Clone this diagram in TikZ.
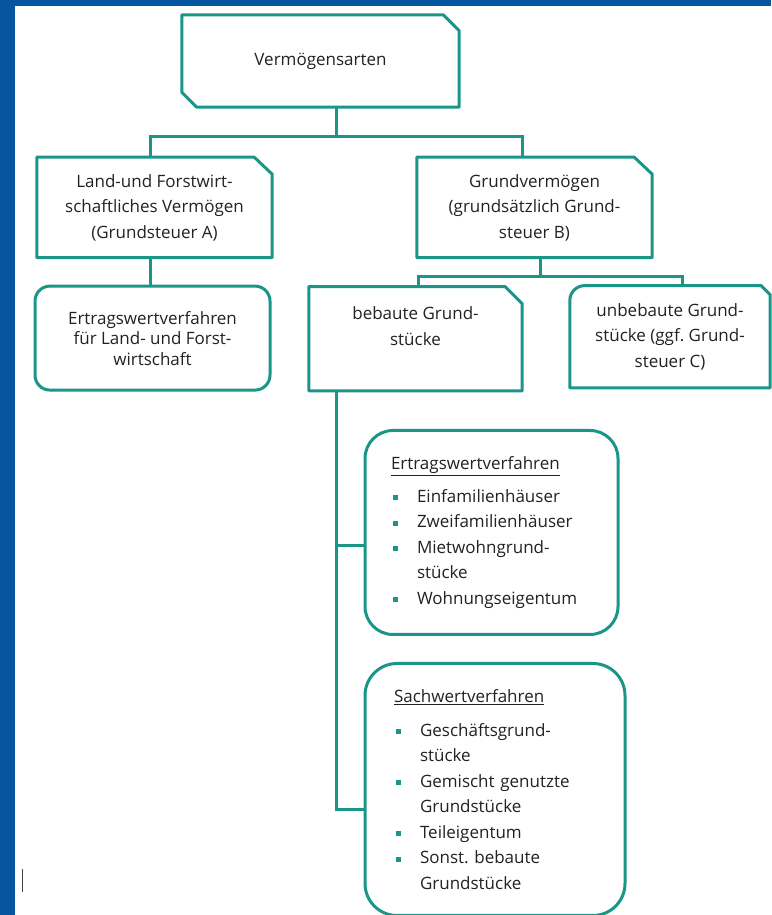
\documentclass[tikz,border=0pt]{standalone}
\usepackage{fontspec}
\setmainfont{Open Sans}
\usetikzlibrary{positioning}

\definecolor{tealline}{RGB}{26,150,136}
\definecolor{frameblue}{RGB}{5,85,160}
\definecolor{textgray}{RGB}{34,34,34}

% bullet of the lists
\newcommand{\bul}{\makebox[26pt][l]{\hspace*{2pt}\textcolor{tealline}{\rule[2pt]{5pt}{5pt}}}}
\newcommand{\cont}{\hspace*{26pt}}

\begin{document}
\begin{tikzpicture}[x=1pt, y=1pt]
    \tikzset{
        box/.style = {draw=none, inner sep=0pt, align=center, text=textgray,
                      font=\fontsize{17}{25.5}\selectfont},
        roundbox/.style = {box, draw=tealline, line width=3pt, rounded corners=#1},
        listbox/.style = {roundbox=#1, align=left},
        line/.style = {draw=tealline, line width=3pt},
        outline/.style = {draw=tealline, line width=3pt, line join=round}
    }

    % frame
    \useasboundingbox (0,0) rectangle (771,915);
    \fill[white] (0,0) rectangle (771,915);
    \fill[frameblue] (0,0) rectangle (15,915);
    \fill[frameblue] (0,909) rectangle (771,915);
    \draw[black!75, line width=1.5pt] (22.5,46) -- (22.5,23);

    % oberste Ebene
    \node [box, minimum width=277pt, minimum height=92pt] (top) at (320.5,854) {Vermögensarten};

    % zweite Ebene
    \node [box, minimum width=235pt, minimum height=100pt, below=50pt of top, xshift=-166pt] (land)
        {Land-und Forstwirt-\\schaftliches Vermögen\\(Grundsteuer A)};
    \node [box, minimum width=235pt, minimum height=100pt, below=50pt of top, xshift=214pt] (grund)
        {Grundvermögen\\(grundsätzlich Grund-\\steuer B)};

    % dritte Ebene
    \node [roundbox=15pt, minimum width=235pt, minimum height=104pt, below=27pt of land, xshift=-2pt,
           font=\fontsize{17}{20.5}\selectfont] (ertragLF)
        {Ertragswertverfahren\\für Land- und Forst-\\wirtschaft};
    \node [box, minimum width=213pt, minimum height=104pt, below=29pt of grund, xshift=-119pt] (bebaut)
        {bebaute Grund-\\stücke\\\mbox{}};
    \node [box, minimum width=200pt, minimum height=102pt, below=28pt of grund, xshift=135.5pt] (unbebaut)
        {unbebaute Grund-\\stücke (ggf.\ Grund-\\steuer C)};

    % Verfahren
    \node [listbox=28pt, text width=201pt, minimum width=253pt, minimum height=204pt,
           below=38pt of bebaut, xshift=76pt] (ertrag)
        {\underline{Ertragswertverfahren}\\[7.5pt]
         \bul Einfamilienhäuser\\
         \bul Zweifamilienhäuser\\
         \bul Mietwohngrund-\\
         \cont stücke\\
         \bul Wohnungseigentum};
    \node [listbox=32pt, text width=202pt, minimum width=260pt, minimum height=252pt,
           below=26pt of ertrag, xshift=3.5pt] (sach)
        {\underline{Sachwertverfahren}\\[8.5pt]
         \bul Geschäftsgrund-\\
         \cont stücke\\
         \bul Gemischt genutzte\\
         \cont Grundstücke\\
         \bul Teileigentum\\
         \bul Sonst.\ bebaute\\
         \cont Grundstücke};

    % Umrisse mit abgeschnittenen Ecken
    \draw [outline] (top.north west) -- ([xshift=-16pt]top.north east) -- ([yshift=-16pt]top.north east)
        -- (top.south east) -- ([xshift=15pt]top.south west) -- ([yshift=15pt]top.south west) -- cycle;
    \draw [outline] (land.north west) -- ([xshift=-18pt]land.north east) -- ([yshift=-17pt]land.north east)
        -- (land.south east) -- (land.south west) -- cycle;
    \draw [outline] (grund.north west) -- ([xshift=-18pt]grund.north east) -- ([yshift=-17pt]grund.north east)
        -- (grund.south east) -- (grund.south west) -- cycle;
    \draw [outline] (bebaut.north west) -- ([xshift=-17pt]bebaut.north east) -- ([yshift=-17pt]bebaut.north east)
        -- (bebaut.south east) -- (bebaut.south west) -- cycle;
    \draw [outline] (unbebaut.south west) -- ([yshift=-15pt]unbebaut.north west)
        arc[start angle=180, end angle=90, radius=15pt] -- ([xshift=-9pt]unbebaut.north east)
        -- ([yshift=-9pt]unbebaut.north east) -- (unbebaut.south east) -- cycle;

    % Verbindungen
    \draw [line] ([xshift=15.5pt]top.south) -- ++(0,-29) coordinate (hubA);
    \draw [line] (hubA) -| ([xshift=-4.5pt]land.north);
    \draw [line] (hubA) -| ([xshift=-12.5pt]grund.north);

    \draw [line] ([xshift=-4.5pt]land.south) -- ([xshift=-2.5pt]ertragLF.north);

    \draw [line] ([xshift=5.5pt]grund.south) -- ++(0,-19) coordinate (hubB);
    \draw [line] (hubB) -| ([xshift=2.5pt]bebaut.north);
    \draw [line] (hubB) -| ([xshift=12pt]unbebaut.north);

    \draw [line] ([xshift=-79.5pt]bebaut.south) |- ([yshift=-13pt]ertrag.west);
    \draw [line] ([xshift=-79.5pt]bebaut.south) |- ([yshift=-20pt]sach.west);

\end{tikzpicture}
\end{document}
